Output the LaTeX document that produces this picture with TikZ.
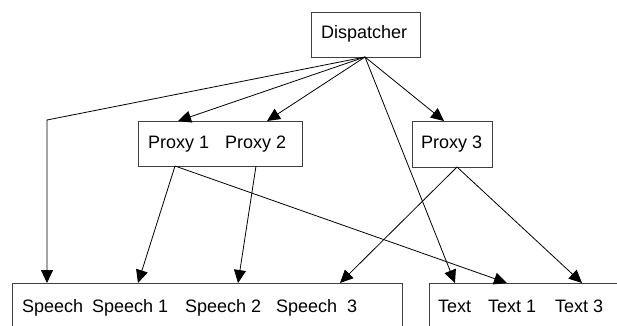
\documentclass[tikz,border=0pt]{standalone}
\usepackage{fontspec}
\setmainfont{Liberation Sans}
\usetikzlibrary{arrows.meta}
\begin{document}
\begin{tikzpicture}[x=1pt,y=-1pt,
  box/.style={draw=black!75, line width=0.9pt, inner sep=0pt, anchor=north west},
  lbl/.style={anchor=base west, inner sep=0pt, font=\fontsize{18}{20}\selectfont},
  link/.style={draw=black, line width=0.8pt, -{Triangle[length=13pt,width=12pt]}}]
\useasboundingbox (0,0) rectangle (617,325);
\clip (0,0) rectangle (617,325);

% boxes
\node[box, minimum width=109pt, minimum height=45pt] (disp) at (311,12) {};
\node[box, minimum width=164pt, minimum height=45pt] (proxyA) at (138,121) {};
\node[box, minimum width=80pt, minimum height=46pt] (proxyB) at (412,121) {};
\node[box, minimum width=390pt, minimum height=60pt] (speech) at (12,283) {};
\node[box, minimum width=200pt, minimum height=60pt] (textout) at (429,283) {};

% labels
\node[lbl] (l-disp) at (321,38) {Dispatcher};
\node[lbl] (l-p1) at (148,148) {Proxy 1};
\node[lbl] (l-p2) at (225,148) {Proxy 2};
\node[lbl] (l-p3) at (421,148) {Proxy 3};
\node[lbl] (l-s0) at (22,312) {Speech};
\node[lbl] (l-s1) at (92,312) {Speech 1};
\node[lbl] (l-s2) at (185,312) {Speech 2};
\node[lbl] (l-s3) at (276,312) {Speech\ \ 3};
\node[lbl] (l-t0) at (438,312) {Text};
\node[lbl] (l-t1) at (488,312) {Text 1};
\node[lbl] (l-t3) at (555,312) {Text 3};

% connection points
\coordinate (d-out) at (365,57);
\coordinate (p1-in) at (178,121);
\coordinate (p2-in) at (267,121);
\coordinate (p3-in) at (444,121);
\coordinate (p1-out) at (175,166);
\coordinate (p2-out) at (256,166);
\coordinate (p3-out) at (457,167);
\coordinate (bend) at (47,120);
\coordinate (s0) at (47,283);
\coordinate (s1) at (138,283);
\coordinate (s2) at (238,283);
\coordinate (s3) at (340,283);
\coordinate (t0) at (455,283);
\coordinate (t1) at (507,283);
\coordinate (t3) at (582,283);

% connectors
\draw[link] (d-out) -- (bend) -- (s0);
\draw[link] (d-out) -- (p1-in);
\draw[link] (d-out) -- (p2-in);
\draw[link] (d-out) -- (p3-in);
\draw[link] (d-out) -- (t0);
\draw[link] (p1-out) -- (s1);
\draw[link] (p2-out) -- (s2);
\draw[link] (p1-out) -- (t1);
\draw[link] (p3-out) -- (s3);
\draw[link] (p3-out) -- (t3);
\end{tikzpicture}
\end{document}
